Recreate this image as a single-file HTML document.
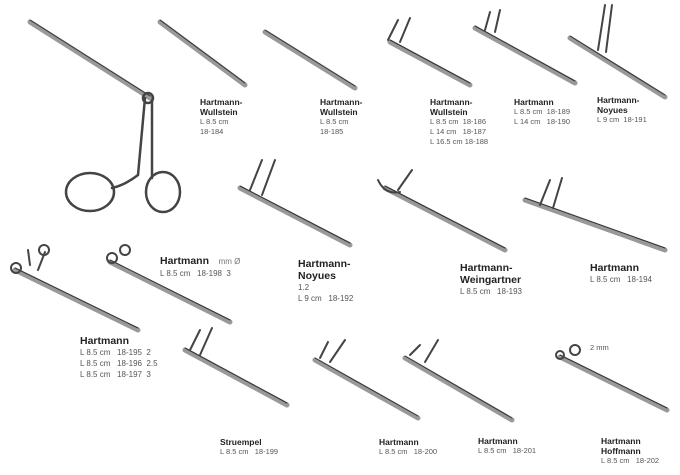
<!DOCTYPE html>
<html><head><meta charset="utf-8"><style>
body{margin:0;width:680px;height:475px;background:#fff;position:relative;overflow:hidden;font-family:"Liberation Sans",sans-serif;color:#222}
.t{position:absolute;line-height:10px;font-size:7.5px;color:#555;white-space:nowrap}
.t b{font-size:8.5px;color:#222;display:block}
.L{line-height:11px;font-size:8px}
.L b{font-size:10.5px;line-height:12px}
svg{position:absolute;left:0;top:0}
</style></head><body>
<svg width="680" height="475" viewBox="0 0 680 475">
<g stroke="#555" stroke-linecap="round" fill="none">
<g stroke-width="5" stroke="#999">
<line x1="30" y1="22" x2="150" y2="98"/>
<line x1="160" y1="22" x2="245" y2="85"/>
<line x1="265" y1="32" x2="355" y2="88"/>
<line x1="390" y1="42" x2="470" y2="85"/>
<line x1="475" y1="28" x2="575" y2="83"/>
<line x1="570" y1="38" x2="665" y2="97"/>
<line x1="240" y1="188" x2="350" y2="245"/>
<line x1="385" y1="188" x2="505" y2="250"/>
<line x1="525" y1="200" x2="665" y2="250"/>
<line x1="15" y1="270" x2="138" y2="330"/>
<line x1="110" y1="262" x2="230" y2="322"/>
<line x1="185" y1="350" x2="287" y2="405"/>
<line x1="315" y1="360" x2="418" y2="418"/>
<line x1="405" y1="358" x2="512" y2="420"/>
<line x1="560" y1="357" x2="667" y2="410"/>
</g>
<g stroke-width="1" stroke="#333">
<line x1="30" y1="20" x2="150" y2="96"/>
<line x1="160" y1="20" x2="245" y2="83"/>
<line x1="265" y1="30" x2="355" y2="86"/>
<line x1="390" y1="40" x2="470" y2="83"/>
<line x1="475" y1="26" x2="575" y2="81"/>
<line x1="570" y1="36" x2="665" y2="95"/>
<line x1="240" y1="186" x2="350" y2="243"/>
<line x1="385" y1="186" x2="505" y2="248"/>
<line x1="525" y1="198" x2="665" y2="248"/>
<line x1="15" y1="268" x2="138" y2="328"/>
<line x1="110" y1="260" x2="230" y2="320"/>
<line x1="185" y1="348" x2="287" y2="403"/>
<line x1="315" y1="358" x2="418" y2="416"/>
<line x1="405" y1="356" x2="512" y2="418"/>
<line x1="560" y1="355" x2="667" y2="408"/>
</g>
<g stroke-width="2.5" stroke="#444">
<path d="M145 98 L138 175"/><path d="M152 100 L152 178"/>
<ellipse cx="90" cy="192" rx="24" ry="19"/>
<ellipse cx="163" cy="192" rx="17" ry="20"/>
<path d="M138 175 Q125 185 112 188"/>
<circle cx="148" cy="98" r="5"/>
</g>
<g stroke-width="2" stroke="#444">
<path d="M388 40 L398 20"/><path d="M400 42 L410 18"/>
<path d="M485 30 L490 12"/><path d="M495 32 L500 10"/>
<path d="M598 50 L605 5"/><path d="M606 52 L612 5"/>
<path d="M250 190 L262 160"/><path d="M262 195 L275 160"/>
<path d="M378 180 Q385 195 400 192"/><path d="M398 190 L412 170"/>
<path d="M540 205 L550 180"/><path d="M553 208 L562 178"/>
<path d="M30 265 L28 250"/><path d="M38 270 L45 252"/>
<circle cx="16" cy="268" r="5"/><circle cx="44" cy="250" r="5"/>
<circle cx="112" cy="258" r="5"/><circle cx="125" cy="250" r="5"/>
<path d="M190 350 L200 330"/><path d="M200 355 L212 328"/>
<path d="M320 358 L328 342"/><path d="M330 362 L345 340"/>
<path d="M410 355 L420 345"/><path d="M425 362 L438 340"/>
<circle cx="560" cy="355" r="4"/><circle cx="575" cy="350" r="5"/>
</g>
</g>
</svg>
<div class="t" style="left:200px;top:97px"><b>Hartmann-</b><b>Wullstein</b>L 8.5 cm<br>18-184</div>
<div class="t" style="left:320px;top:97px"><b>Hartmann-</b><b>Wullstein</b>L 8.5 cm<br>18-185</div>
<div class="t" style="left:430px;top:97px"><b>Hartmann-</b><b>Wullstein</b>L 8.5 cm &nbsp;18-186<br>L 14 cm &nbsp; 18-187<br>L 16.5 cm 18-188</div>
<div class="t" style="left:514px;top:97px"><b>Hartmann</b>L 8.5 cm &nbsp;18-189<br>L 14 cm &nbsp; 18-190</div>
<div class="t" style="left:597px;top:95px"><b>Hartmann-</b><b>Noyues</b>L 9 cm &nbsp;18-191</div>
<div class="t L" style="left:160px;top:255px"><b>Hartmann <span style="font-weight:normal;font-size:8px;color:#777">&nbsp;&nbsp; mm Ø</span></b>L 8.5 cm &nbsp; 18-198 &nbsp;3</div>
<div class="t L" style="left:298px;top:258px"><b>Hartmann-</b><b>Noyues</b>1.2<br>L 9 cm &nbsp; 18-192</div>
<div class="t L" style="left:460px;top:262px"><b>Hartmann-</b><b>Weingartner</b>L 8.5 cm &nbsp; 18-193</div>
<div class="t L" style="left:590px;top:262px"><b>Hartmann</b>L 8.5 cm &nbsp; 18-194</div>
<div class="t L" style="left:80px;top:335px"><b>Hartmann</b>L 8.5 cm &nbsp; 18-195 &nbsp;2<br>L 8.5 cm &nbsp; 18-196 &nbsp;2.5<br>L 8.5 cm &nbsp; 18-197 &nbsp;3</div>
<div class="t" style="left:220px;top:437px"><b>Struempel</b>L 8.5 cm &nbsp; 18-199</div>
<div class="t" style="left:379px;top:437px"><b>Hartmann</b>L 8.5 cm &nbsp; 18-200</div>
<div class="t" style="left:478px;top:436px"><b>Hartmann</b>L 8.5 cm &nbsp; 18-201</div>
<div class="t" style="left:601px;top:436px"><b>Hartmann</b><b>Hoffmann</b>L 8.5 cm &nbsp; 18-202</div>
<div class="t" style="left:590px;top:343px">2 mm</div>
</body></html>
